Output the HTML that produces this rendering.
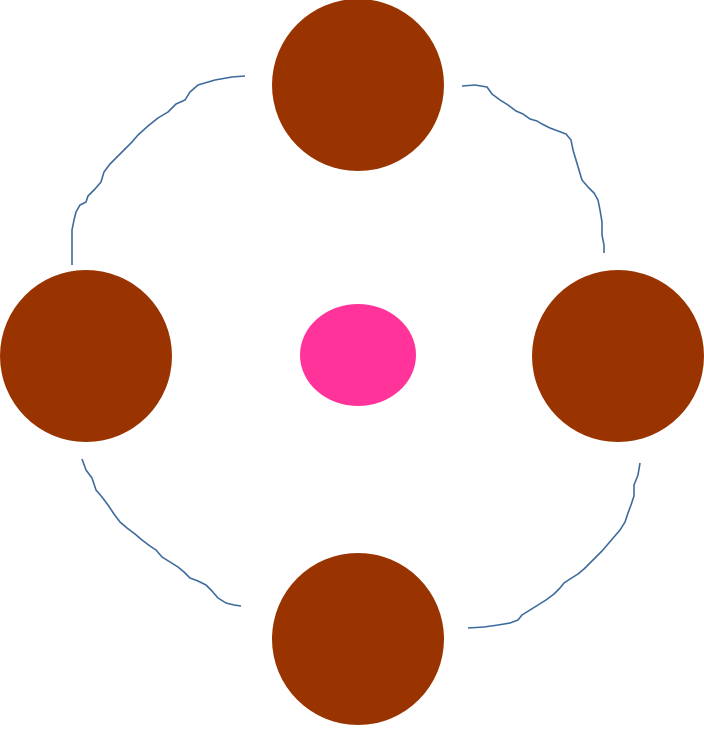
<!DOCTYPE html>
<html><head><meta charset="utf-8"><style>html,body{margin:0;padding:0;background:#fff}</style></head>
<body>
<svg width="704" height="726" viewBox="0 0 704 726" xmlns="http://www.w3.org/2000/svg">
<g fill="none" stroke="#3d6a9c" stroke-width="1.6" stroke-linejoin="round">
<polyline points="245,76 232,77 215,80 198,85 190,92 185,100 176,104 168,112 158,118 148,126 138,135 132,142 126,148 118,156 110,164 104,172 101,182 95,189 88,196 86,202 80,205 76,212 74,220 72,230 72,245 72,265"/>
<polyline points="462,86 475,85 487,87 492,94 500,100 508,105 516,111 523,114 530,119 537,121 542,124 550,128 558,131 566,134 571,140 573,150 576,160 579,170 582,180 588,187 594,193 598,200 600,210 602,222 602,235 604,245 604,253"/>
<polyline points="640,463 638,475 634,485 634,496 631,505 628,513 625,522 620,530 614,537 608,544 602,551 596,557 590,563 584,569 578,574 570,579 564,583 560,588 554,594 546,600 538,605 530,610 522,615 518,620 510,623 498,625 484,627 468,628"/>
<polyline points="82,459 86,470 92,478 96,490 102,497 108,505 114,514 120,522 127,528 135,534 142,540 150,546 156,550 162,557 170,562 178,567 184,572 190,578 198,581 206,585 212,591 218,598 226,603 234,605 241,606"/>
</g>
<circle cx="358" cy="85" r="86" fill="#993300"/>
<circle cx="86" cy="356" r="86" fill="#993300"/>
<circle cx="618" cy="356" r="86" fill="#993300"/>
<circle cx="358" cy="639" r="86" fill="#993300"/>
<ellipse cx="358" cy="355" rx="58" ry="51" fill="#ff3399"/>
</svg>
</body></html>
